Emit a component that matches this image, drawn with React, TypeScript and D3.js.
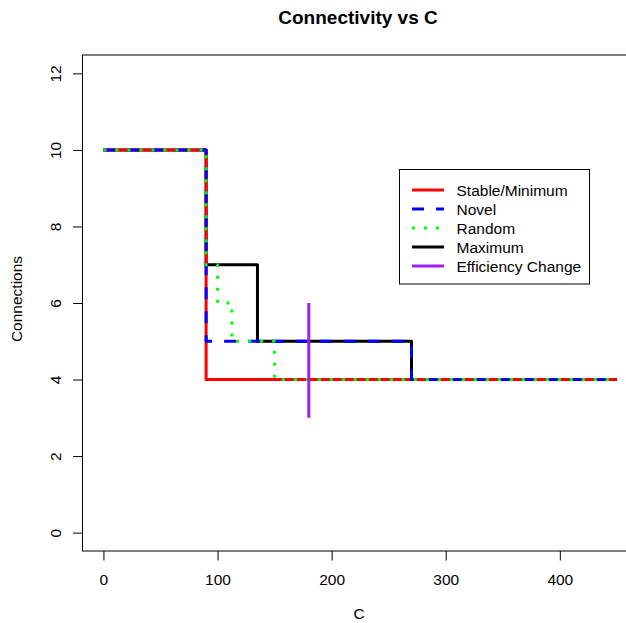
import * as d3 from 'd3';
import React, { useEffect, useRef } from 'react';

// step series: C value where each level starts, and the connection level
const stableC = [0, 90, 450];
const stableConn = [10, 4, 4];
const novelC = [0, 90, 270, 450];
const novelConn = [10, 5, 4, 4];
const randomC = [0, 90, 100, 112.5, 150, 450];
const randomConn = [10, 7, 6, 5, 4, 4];
const maxC = [0, 90, 135, 270, 450];
const maxConn = [10, 7, 5, 4, 4];
const effChangeC = 180;
const effChangeConn = [3, 6];

const xTicks = [0, 100, 200, 300, 400];
const yTicks = [0, 2, 4, 6, 8, 10, 12];

const legendLabels = ['Stable/Minimum', 'Novel', 'Random', 'Maximum', 'Efficiency Change'];

const FONT = 'Liberation Sans, Arial, sans-serif';

const App = () => {
  const ref = useRef<SVGSVGElement>(null);

  useEffect(() => {
    const width = 626, height = 623;
    const margin = { top: 55, bottom: 551, left: 82.5 };

    const svg = d3.select(ref.current);
    svg.selectAll('*').remove();

    svg.append('rect').attr('width', width).attr('height', height).attr('fill', '#fff');

    const x = d3.scaleLinear().domain([-18, 468]).range([82.9, 637.4]);
    const y = d3.scaleLinear().domain([-0.48, 12.48]).range([margin.bottom, margin.top]);

    // axes
    const xAxis = svg.append('g')
      .attr('transform', `translate(0,${margin.bottom})`)
      .call(d3.axisBottom(x).tickValues(xTicks).tickSize(9.5).tickPadding(13).tickFormat(d3.format('d')));
    xAxis.select('.domain').remove();
    xAxis.selectAll('text').attr('font-size', 15.5).attr('font-family', FONT).attr('fill', '#000');

    const yAxis = svg.append('g')
      .attr('transform', `translate(${margin.left},0)`)
      .call(d3.axisLeft(y).tickValues(yTicks).tickSize(9.5).tickFormat(d3.format('d')));
    yAxis.select('.domain').remove();
    yAxis.selectAll('text')
      .attr('font-size', 15.5).attr('font-family', FONT).attr('fill', '#000')
      .attr('text-anchor', 'middle').attr('dy', null).attr('x', null)
      .attr('transform', 'translate(-22,0) rotate(-90)');

    // box
    svg.append('rect')
      .attr('x', margin.left).attr('y', margin.top)
      .attr('width', 700).attr('height', margin.bottom - margin.top)
      .attr('fill', 'none').attr('stroke', '#000').attr('stroke-width', 1);

    const line = d3.line<[number, number]>()
      .x(d => x(d[0])).y(d => y(d[1]))
      .curve(d3.curveStepAfter);

    const series = [
      { c: maxC, v: maxConn, color: '#000000', dash: null },
      { c: stableC, v: stableConn, color: '#ff0000', dash: null },
      { c: novelC, v: novelConn, color: '#0000ff', dash: '12,12' },
      { c: randomC, v: randomConn, color: '#00ff00', dash: '3,9' },
    ];

    series.forEach(s => {
      svg.append('path')
        .datum(s.c.map((c, i) => [c, s.v[i]] as [number, number]))
        .attr('d', line)
        .attr('fill', 'none')
        .attr('stroke', s.color)
        .attr('stroke-width', 3)
        .attr('stroke-dasharray', s.dash)
        .attr('stroke-linejoin', 'round');
    });

    svg.append('line')
      .attr('x1', x(effChangeC)).attr('x2', x(effChangeC))
      .attr('y1', y(effChangeConn[0])).attr('y2', y(effChangeConn[1]))
      .attr('stroke', '#a020f0').attr('stroke-width', 3);

    // legend
    const legendColors = ['#ff0000', '#0000ff', '#00ff00', '#000000', '#a020f0'];
    const legendDash = [null, '12,12', '3,9', null, null];
    const lg = svg.append('g');
    lg.append('rect')
      .attr('x', 399.5).attr('y', 169.5).attr('width', 190).attr('height', 114.5)
      .attr('fill', '#fff').attr('stroke', '#000');
    legendLabels.forEach((label, i) => {
      const ly = 190 + i * 19;
      lg.append('line')
        .attr('x1', 412).attr('x2', 444).attr('y1', ly).attr('y2', ly)
        .attr('stroke', legendColors[i]).attr('stroke-width', 3)
        .attr('stroke-dasharray', legendDash[i]);
      lg.append('text')
        .attr('x', 456.5).attr('y', ly + 5.5)
        .attr('font-size', 15.5).attr('font-family', FONT)
        .text(label);
    });

    // titles
    svg.append('text')
      .attr('x', 358).attr('y', 24)
      .attr('text-anchor', 'middle').attr('font-weight', 'bold')
      .attr('font-size', 19).attr('font-family', FONT)
      .text('Connectivity vs C');

    svg.append('text')
      .attr('x', 359).attr('y', 619)
      .attr('text-anchor', 'middle')
      .attr('font-size', 15.5).attr('font-family', FONT)
      .text('C');

    svg.append('text')
      .attr('transform', `translate(22,${(margin.top + margin.bottom) / 2 - 4}) rotate(-90)`)
      .attr('text-anchor', 'middle')
      .attr('font-size', 15.5).attr('font-family', FONT)
      .text('Connections');
  }, []);

  return (
    <svg ref={ref} width={626} height={623} style={{ position: 'absolute', left: 0, top: 0 }} />
  );
};

export default App;
